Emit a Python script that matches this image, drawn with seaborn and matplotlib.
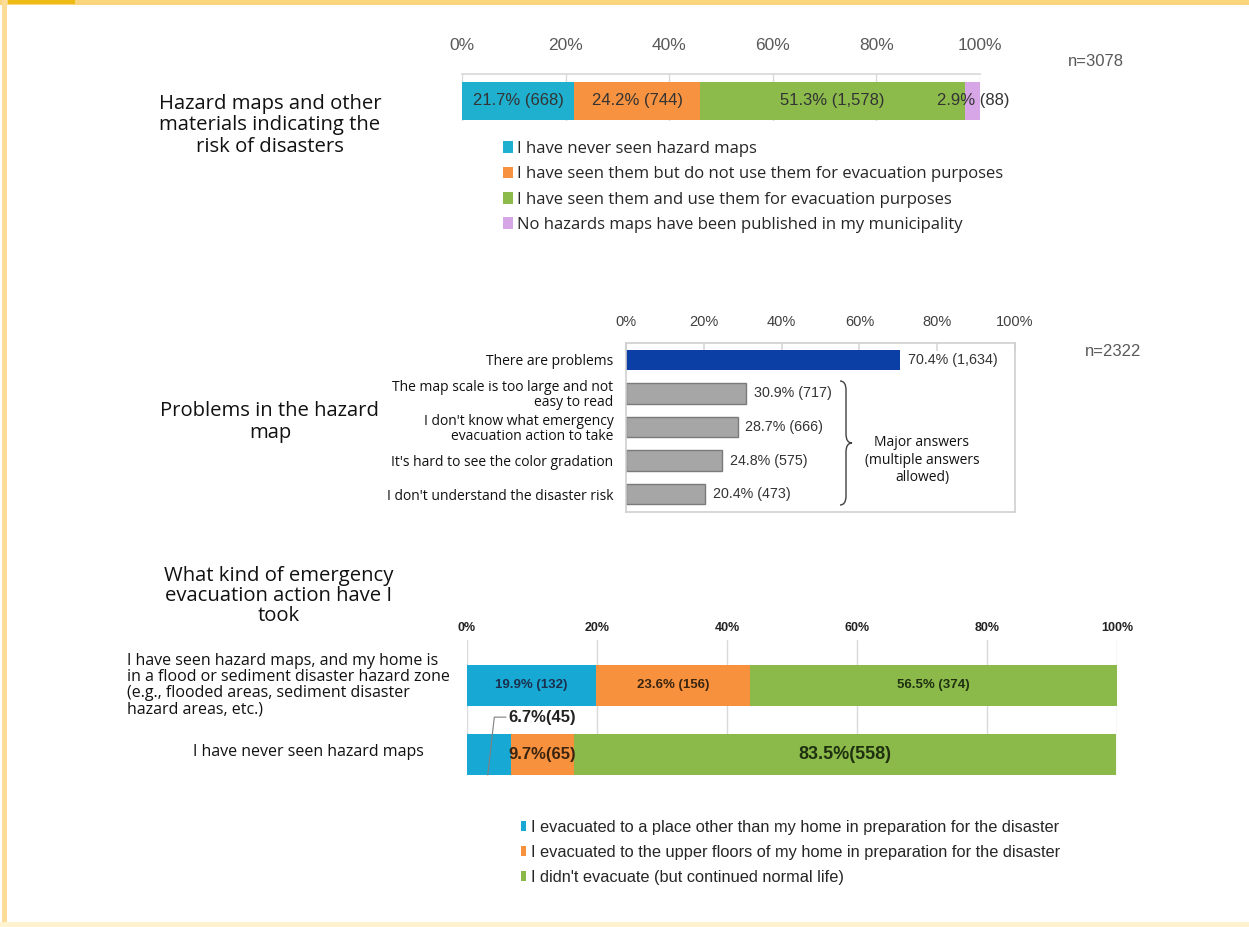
import matplotlib
matplotlib.use("Agg")
import matplotlib.pyplot as plt
import seaborn as sns
import pandas as pd
from matplotlib.patches import Rectangle, Patch, PathPatch
from matplotlib.path import Path

sns.set_theme(style="white")
plt.rcParams["font.family"] = ["Open Sans", "DejaVu Sans"]
NARROW = ["Liberation Sans", "DejaVu Sans"]

# ---------------- data ----------------
tick_values = [0, 20, 40, 60, 80, 100]
tick_labels = ["0%", "20%", "40%", "60%", "80%", "100%"]

hm_title = "Hazard maps and other\nmaterials indicating the\nrisk of disasters"
hm_categories = [
    "I have never seen hazard maps",
    "I have seen them but do not use them for evacuation purposes",
    "I have seen them and use them for evacuation purposes",
    "No hazards maps have been published in my municipality",
]
hm_pct = [21.7, 24.2, 51.3, 2.9]
hm_counts = ["668", "744", "1,578", "88"]
hm_n = "n=3078"

prob_title = "Problems in the hazard\nmap"
prob_labels = [
    "There are problems",
    "The map scale is too large and not\neasy to read",
    "I don't know what emergency\nevacuation action to take",
    "It's hard to see the color gradation",
    "I don't understand the disaster risk",
]
prob_pct = [70.4, 30.9, 28.7, 24.8, 20.4]
prob_counts = ["1,634", "717", "666", "575", "473"]
prob_note = "Major answers\n(multiple answers\nallowed)"
prob_n = "n=2322"

evac_title = "What kind of emergency\nevacuation action have I\ntook"
evac_groups = [
    "I have seen hazard maps, and my home is\nin a flood or sediment disaster hazard zone\n(e.g., flooded areas, sediment disaster\nhazard areas, etc.)",
    "I have never seen hazard maps",
]
evac_actions = [
    "I evacuated to a place other than my home in preparation for the disaster",
    "I evacuated to the upper floors of my home in preparation for the disaster",
    "I didn't evacuate (but continued normal life)",
]
evac_other_place = [19.9, 6.7]
evac_upper_floor = [23.6, 9.7]
evac_no_evac = [56.5, 83.5]
evac_other_counts = ["132", "45"]
evac_upper_counts = ["156", "65"]
evac_no_counts = ["374", "558"]

# ---------------- style ----------------
C_CYAN, C_ORANGE, C_GREEN, C_PURPLE = "#1FB0CF", "#F79240", "#8CBB4C", "#D7A6E6"
hm_colors = [C_CYAN, C_ORANGE, C_GREEN, C_PURPLE]
evac_colors = ["#17A9D3", "#F7913D", "#8BBA4A"]
C_BLUE, C_GRAY = "#0B3FA6", "#A6A6A6"
GRID = "#D9D9D9"
TITLE_FS = 14.6

W, H = 1249, 927
fig = plt.figure(figsize=(W / 100, H / 100), dpi=100)
fig.patch.set_facecolor("white")


def rect(x0, y0, x1, y1):
    return [x0 / W, 1 - y1 / H, (x1 - x0) / W, (y1 - y0) / H]


def fx(x):
    return x / W


def fy(y):
    return 1 - y / H


# frame decorations
fig.add_artist(Rectangle((0, fy(5)), 1, 5 / H, transform=fig.transFigure,
                         facecolor="#FAD57B", edgecolor="none"))
fig.add_artist(Rectangle((fx(8), fy(4)), 67 / W, 4 / H, transform=fig.transFigure,
                         facecolor="#EDBA16", edgecolor="none"))
fig.add_artist(Rectangle((fx(2), 0), 5 / W, 1, transform=fig.transFigure,
                         facecolor="#FBDC98", edgecolor="none"))
fig.add_artist(Rectangle((0, 0), 1, 5 / H, transform=fig.transFigure,
                         facecolor="#FEF3CE", edgecolor="none"))

# ================= Panel 1 =================
ax1 = fig.add_axes(rect(462, 74, 980, 121))
cum = []
s = 0
for p in hm_pct:
    s += p
    cum.append(s)
for i in reversed(range(4)):
    sns.barplot(x=[cum[i]], y=["hm"], color=hm_colors[i], width=0.8,
                saturation=1, linewidth=0, orient="h", ax=ax1)
ax1.set_xlim(0, 100)
ax1.set_ylim(0.421, -0.568)
ax1.set_xlabel("")
ax1.set_ylabel("")
ax1.set_yticks([])
ax1.set_xticks(tick_values)
ax1.set_xticklabels(tick_labels, family=NARROW, fontsize=12.5, color="#595959")
ax1.xaxis.tick_top()
ax1.tick_params(axis="x", length=0, pad=15)
ax1.grid(axis="x", color=GRID, lw=1)
ax1.set_axisbelow(True)
for sp in ["left", "right", "bottom"]:
    ax1.spines[sp].set_visible(False)
ax1.spines["top"].set_color(GRID)
ax1.patch.set_alpha(0)
for i in range(4):
    start = cum[i] - hm_pct[i]
    ax1.text(start + hm_pct[i] / 2, 0.0, f"{hm_pct[i]}% ({hm_counts[i]})",
             ha="center", va="center", family=NARROW, fontsize=12,
             color="#333333", clip_on=False)
fig.text(fx(1096), fy(62), hm_n, ha="center", va="center", family=NARROW,
         fontsize=12, color="#595959")
fig.text(fx(270), fy(125), hm_title, ha="center", va="center", fontsize=TITLE_FS,
         color="#111111", linespacing=1.1)
fig.legend([Patch(facecolor=c, edgecolor="none") for c in hm_colors], hm_categories,
           loc="upper left", bbox_to_anchor=(fx(503), fy(141)), frameon=False,
           fontsize=12, handlelength=0.6, handleheight=0.7, handletextpad=0.25,
           labelspacing=0.56, borderpad=0, borderaxespad=0)

# ================= Panel 2 =================
ax2 = fig.add_axes(rect(626, 343, 1015, 512))
df2 = pd.DataFrame({"label": prob_labels, "pct": prob_pct})
sns.barplot(data=df2, x="pct", y="label", hue="label",
            palette=[C_BLUE] + [C_GRAY] * 4, width=0.6, saturation=1,
            legend=False, orient="h", ax=ax2, linewidth=0)
for k, patch in enumerate(ax2.patches):
    if k > 0:
        patch.set_edgecolor("#7A7A7A")
        patch.set_linewidth(1.0)
ax2.set_xlim(0, 100)
ax2.set_ylim(4.537, -0.507)
ax2.set_xlabel("")
ax2.set_ylabel("")
ax2.set_xticks(tick_values)
ax2.set_xticklabels(tick_labels, family=NARROW, fontsize=10.5, color="#404040")
ax2.xaxis.tick_top()
ax2.tick_params(axis="x", direction="in", length=6, color=GRID, pad=10)
ax2.tick_params(axis="y", length=0, pad=9, labelsize=10, labelcolor="#111111")
for lab in ax2.get_yticklabels():
    lab.set_linespacing(1.0)
for sp in ax2.spines.values():
    sp.set_visible(True)
    sp.set_color("#CFCFCF")
    sp.set_linewidth(1.2)
for i, (p, c) in enumerate(zip(prob_pct, prob_counts)):
    ax2.text(p + 2.0, i, f"{p}% ({c})", ha="left", va="center", family=NARROW,
             fontsize=10.3, color="#333333")

# brace
bx, bw, by0, by1, bym, br = 840, 12, 381, 505, 443, 9
verts = [
    (bx, by0), (bx + bw / 2, by0), (bx + bw / 2, by0 + br),
    (bx + bw / 2, bym - br),
    (bx + bw / 2, bym), (bx + bw, bym),
    (bx + bw / 2, bym), (bx + bw / 2, bym + br),
    (bx + bw / 2, by1 - br),
    (bx + bw / 2, by1), (bx, by1),
]
codes = [Path.MOVETO, Path.CURVE3, Path.CURVE3, Path.LINETO, Path.CURVE3, Path.CURVE3,
         Path.CURVE3, Path.CURVE3, Path.LINETO, Path.CURVE3, Path.CURVE3]
fig.add_artist(PathPatch(Path([(fx(a), fy(b)) for a, b in verts], codes),
                         transform=fig.transFigure, fill=False, edgecolor="#404040", lw=1))
fig.text(fx(922), fy(460), prob_note, ha="center", va="center", fontsize=10,
         color="#111111", linespacing=1.2)
fig.text(fx(1113), fy(351), prob_n, ha="center", va="center", family=NARROW,
         fontsize=12, color="#595959")
fig.text(fx(270), fy(422), prob_title, ha="center", va="center", fontsize=TITLE_FS,
         color="#111111", linespacing=1.1)

# ================= Panel 3 =================
ax3 = fig.add_axes(rect(467, 640, 1117, 775))
rows = ["g1", "g2"]
cum_a = list(evac_other_place)
cum_b = [a + b for a, b in zip(evac_other_place, evac_upper_floor)]
cum_c = [a + b + c for a, b, c in zip(evac_other_place, evac_upper_floor, evac_no_evac)]
for vals, col in zip([cum_c, cum_b, cum_a], evac_colors[::-1]):
    sns.barplot(x=vals, y=rows, color=col, width=0.59, saturation=1, linewidth=0,
                orient="h", ax=ax3)
ax3.set_xlim(0, 100)
ax3.set_ylim(1.30, -0.66)
ax3.set_xlabel("")
ax3.set_ylabel("")
ax3.set_yticks([])
ax3.set_xticks(tick_values)
ax3.set_xticklabels(tick_labels, family=NARROW, fontsize=9, fontweight="bold",
                    color="#222222")
ax3.xaxis.tick_top()
ax3.tick_params(axis="x", length=0, pad=4)
ax3.grid(axis="x", color=GRID, lw=1)
ax3.set_axisbelow(True)
for sp in ax3.spines.values():
    sp.set_visible(False)
ax3.patch.set_alpha(0)

# row 1 labels
segs = [(0, evac_other_place, evac_other_counts, "#1B2F4F"),
        (1, evac_upper_floor, evac_upper_counts, "#3A2410"),
        (2, evac_no_evac, evac_no_counts, "#1E3010")]
starts = [[0, 0], cum_a, cum_b]
for k, vals, counts, tc in segs:
    st = starts[k][0]
    ax3.text(st + vals[0] / 2, 0, f"{vals[0]}% ({counts[0]})", ha="center", va="center",
             family=NARROW, fontsize=9.5, fontweight="bold", color=tc)
# row 2 labels
ax3.text(cum_a[1] + evac_upper_floor[1] / 2, 1, f"{evac_upper_floor[1]}%({evac_upper_counts[1]})",
         ha="center", va="center", family=NARROW, fontsize=12, fontweight="bold", color="#3A2410")
ax3.text(cum_b[1] + evac_no_evac[1] / 2, 1, f"{evac_no_evac[1]}%({evac_no_counts[1]})",
         ha="center", va="center", family=NARROW, fontsize=13, fontweight="bold", color="#1E3010")
ax3.text(6.3, 0.46, f"{evac_other_place[1]}%({evac_other_counts[1]})", ha="left", va="center",
         family=NARROW, fontsize=12, fontweight="bold", color="#222222")
ax3.plot([6.0, 4.2, 3.2], [0.46, 0.46, 1.30], color="#7F7F7F", lw=0.8, clip_on=False)

fig.text(fx(279), fy(596), evac_title, ha="center", va="center", fontsize=TITLE_FS,
         color="#111111", linespacing=1.0)
fig.text(fx(127), fy(685), evac_groups[0], ha="left", va="center", fontsize=11.5,
         color="#111111", linespacing=1.0)
fig.text(fx(193), fy(752), evac_groups[1], ha="left", va="center", fontsize=11.5,
         color="#111111")
fig.legend([Patch(facecolor=c, edgecolor="none") for c in evac_colors], evac_actions,
           loc="upper left", bbox_to_anchor=(fx(521), fy(820)), frameon=False,
           prop={"family": NARROW, "size": 11.8}, handlelength=0.33, handleheight=0.55,
           handletextpad=0.3, labelspacing=0.6, borderpad=0, borderaxespad=0)

fig.savefig("out.png", dpi=100, facecolor="white")
